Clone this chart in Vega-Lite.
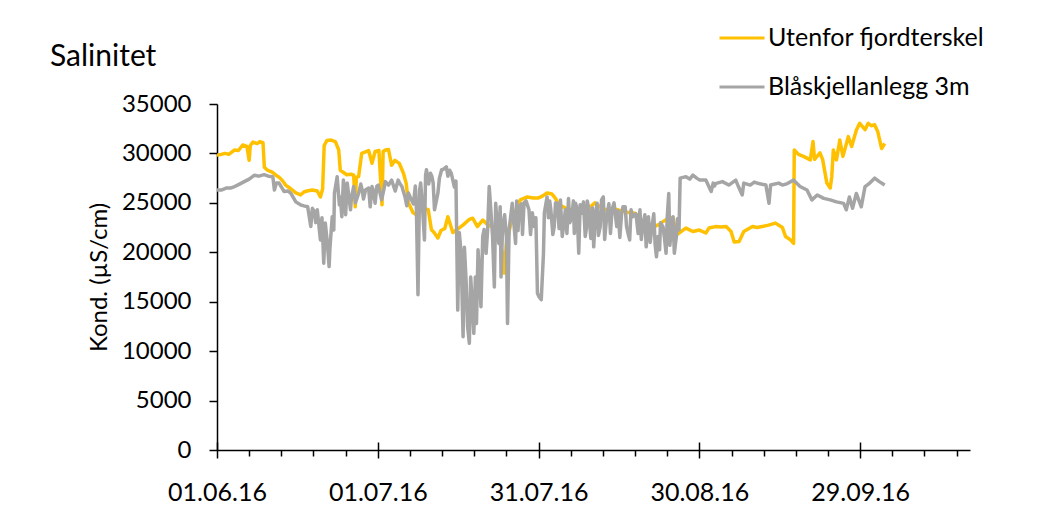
{
 "$schema": "https://vega.github.io/schema/vega-lite/v6.json",
 "width": 753,
 "height": 346,
 "autosize": {"type": "none"},
 "padding": {"left": 217, "top": 104, "right": 72, "bottom": 61},
 "background": "white",
 "config": {"view": {"stroke": null}, "font": "Lato"},
 "title": {"text": "Salinitet", "anchor": "start", "frame": "group", "fontSize": 30, "fontWeight": "normal", "color": "#000", "dx": -167, "dy": 58, "offset": 0},
 "datasets": {
  "u": [
   {"t":"2016-06-01T00:00","v":29800},{"t":"2016-06-01T19:00","v":29900},{"t":"2016-06-02T12:00","v":30000},{"t":"2016-06-03T05:00","v":29900},
   {"t":"2016-06-04T07:00","v":30350},{"t":"2016-06-05T00:00","v":30300},{"t":"2016-06-05T19:00","v":30850},{"t":"2016-06-06T14:00","v":30700},
   {"t":"2016-06-07T00:00","v":29300},{"t":"2016-06-07T05:00","v":30800},{"t":"2016-06-07T17:00","v":31150},{"t":"2016-06-08T12:00","v":31000},
   {"t":"2016-06-09T00:00","v":31200},{"t":"2016-06-09T14:00","v":31100},{"t":"2016-06-09T20:00","v":28600},{"t":"2016-06-10T10:00","v":28300},
   {"t":"2016-06-11T07:00","v":28100},{"t":"2016-06-12T00:00","v":27800},{"t":"2016-06-12T14:00","v":27600},{"t":"2016-06-13T07:00","v":27200},
   {"t":"2016-06-13T19:00","v":26800},{"t":"2016-06-14T14:00","v":26500},{"t":"2016-06-15T17:00","v":26000},{"t":"2016-06-16T14:00","v":25800},
   {"t":"2016-06-17T05:00","v":26100},{"t":"2016-06-17T19:00","v":26200},{"t":"2016-06-18T19:00","v":26300},{"t":"2016-06-19T17:00","v":26200},
   {"t":"2016-06-20T07:00","v":25600},{"t":"2016-06-20T17:00","v":26400},{"t":"2016-06-21T00:00","v":30800},{"t":"2016-06-21T12:00","v":31300},
   {"t":"2016-06-22T07:00","v":31350},{"t":"2016-06-23T02:00","v":31200},{"t":"2016-06-23T17:00","v":30350},{"t":"2016-06-24T00:00","v":28300},
   {"t":"2016-06-25T05:00","v":27850},{"t":"2016-06-26T00:00","v":27900},{"t":"2016-06-26T12:00","v":27800},{"t":"2016-06-26T19:00","v":24600},
   {"t":"2016-06-27T00:00","v":27600},{"t":"2016-06-27T10:00","v":27650},{"t":"2016-06-28T00:00","v":30000},{"t":"2016-06-28T17:00","v":30150},
   {"t":"2016-06-29T07:00","v":30300},{"t":"2016-06-29T22:00","v":29000},{"t":"2016-06-30T12:00","v":30200},{"t":"2016-07-01T05:00","v":30300},
   {"t":"2016-07-01T19:00","v":24800},{"t":"2016-07-02T00:00","v":30200},{"t":"2016-07-02T10:00","v":30350},{"t":"2016-07-03T00:00","v":30400},
   {"t":"2016-07-03T14:00","v":28800},{"t":"2016-07-04T05:00","v":29300},{"t":"2016-07-05T00:00","v":29000},{"t":"2016-07-05T19:00","v":28000},
   {"t":"2016-07-06T07:00","v":27000},{"t":"2016-07-06T17:00","v":25000},{"t":"2016-07-07T14:00","v":24000},{"t":"2016-07-08T05:00","v":23800},
   {"t":"2016-07-08T22:00","v":24200},{"t":"2016-07-09T12:00","v":24450},{"t":"2016-07-10T10:00","v":24300},{"t":"2016-07-11T00:00","v":22300},
   {"t":"2016-07-11T12:00","v":22000},{"t":"2016-07-12T05:00","v":21450},{"t":"2016-07-12T19:00","v":22200},{"t":"2016-07-13T12:00","v":22400},
   {"t":"2016-07-14T02:00","v":23600},{"t":"2016-07-15T00:00","v":22000},{"t":"2016-07-15T19:00","v":22300},{"t":"2016-07-17T00:00","v":22800},
   {"t":"2016-07-18T00:00","v":23300},{"t":"2016-07-18T17:00","v":23450},{"t":"2016-07-19T14:00","v":22600},{"t":"2016-07-20T14:00","v":23250},
   {"t":"2016-07-21T12:00","v":22800},{"t":"2016-07-22T12:00","v":22500},{"t":"2016-07-23T12:00","v":22000},{"t":"2016-07-24T05:00","v":20000},
   {"t":"2016-07-24T14:00","v":17900},{"t":"2016-07-25T00:00","v":20900},{"t":"2016-07-25T19:00","v":22800},{"t":"2016-07-26T10:00","v":23600},
   {"t":"2016-07-27T00:00","v":24600},{"t":"2016-07-27T14:00","v":25300},{"t":"2016-07-28T22:00","v":25600},{"t":"2016-07-30T00:00","v":25500},
   {"t":"2016-07-31T00:00","v":25500},{"t":"2016-07-31T19:00","v":25700},{"t":"2016-08-01T14:00","v":26000},{"t":"2016-08-02T12:00","v":25900},
   {"t":"2016-08-03T05:00","v":25400},{"t":"2016-08-03T19:00","v":24800},{"t":"2016-08-05T00:00","v":24500},{"t":"2016-08-06T07:00","v":24200},
   {"t":"2016-08-07T12:00","v":24000},{"t":"2016-08-09T00:00","v":23900},{"t":"2016-08-09T14:00","v":24550},{"t":"2016-08-10T12:00","v":25000},
   {"t":"2016-08-11T12:00","v":24600},{"t":"2016-08-12T12:00","v":24300},{"t":"2016-08-13T07:00","v":24300},{"t":"2016-08-14T05:00","v":24400},
   {"t":"2016-08-15T00:00","v":24250},{"t":"2016-08-16T00:00","v":24100},{"t":"2016-08-17T00:00","v":24000},{"t":"2016-08-18T00:00","v":23950},
   {"t":"2016-08-19T05:00","v":23250},{"t":"2016-08-20T10:00","v":22800},{"t":"2016-08-21T14:00","v":22600},{"t":"2016-08-22T10:00","v":22800},
   {"t":"2016-08-23T05:00","v":23100},{"t":"2016-08-23T19:00","v":23300},{"t":"2016-08-25T02:00","v":23500},{"t":"2016-08-25T17:00","v":21750},
   {"t":"2016-08-26T14:00","v":22100},{"t":"2016-08-27T12:00","v":22450},{"t":"2016-08-28T19:00","v":22100},{"t":"2016-08-30T00:00","v":22250},
   {"t":"2016-08-31T05:00","v":21950},{"t":"2016-08-31T19:00","v":22450},{"t":"2016-09-02T00:00","v":22600},{"t":"2016-09-03T00:00","v":22550},
   {"t":"2016-09-04T00:00","v":22600},{"t":"2016-09-04T22:00","v":22100},{"t":"2016-09-05T12:00","v":21050},{"t":"2016-09-06T10:00","v":21100},
   {"t":"2016-09-07T07:00","v":22100},{"t":"2016-09-08T22:00","v":22600},{"t":"2016-09-09T19:00","v":22500},{"t":"2016-09-10T17:00","v":22600},
   {"t":"2016-09-11T22:00","v":22750},{"t":"2016-09-13T05:00","v":22950},{"t":"2016-09-14T12:00","v":22500},{"t":"2016-09-15T02:00","v":21600},
   {"t":"2016-09-16T00:00","v":21250},{"t":"2016-09-16T14:00","v":20900},{"t":"2016-09-16T17:00","v":30350},{"t":"2016-09-17T12:00","v":29900},
   {"t":"2016-09-18T10:00","v":29700},{"t":"2016-09-19T17:00","v":29350},{"t":"2016-09-20T05:00","v":31200},{"t":"2016-09-20T12:00","v":29400},
   {"t":"2016-09-21T12:00","v":30050},{"t":"2016-09-22T00:00","v":29400},{"t":"2016-09-22T19:00","v":27000},{"t":"2016-09-23T10:00","v":26500},
   {"t":"2016-09-23T17:00","v":27650},{"t":"2016-09-24T00:00","v":30350},{"t":"2016-09-24T14:00","v":29350},{"t":"2016-09-25T05:00","v":31350},
   {"t":"2016-09-25T19:00","v":29700},{"t":"2016-09-26T19:00","v":31700},{"t":"2016-09-27T10:00","v":30700},{"t":"2016-09-28T07:00","v":32350},
   {"t":"2016-09-28T22:00","v":33050},{"t":"2016-09-29T22:00","v":32400},{"t":"2016-09-30T12:00","v":33050},{"t":"2016-10-01T02:00","v":32800},
   {"t":"2016-10-01T17:00","v":32900},{"t":"2016-10-02T07:00","v":32200},{"t":"2016-10-03T00:00","v":30500},{"t":"2016-10-03T14:00","v":31000}
  ],
  "b": [
   {"t":"2016-06-01T00:00","v":26300},{"t":"2016-06-01T19:00","v":26300},{"t":"2016-06-02T17:00","v":26500},{"t":"2016-06-03T12:00","v":26500},
   {"t":"2016-06-04T07:00","v":26650},{"t":"2016-06-05T05:00","v":26900},{"t":"2016-06-06T02:00","v":27150},{"t":"2016-06-07T00:00","v":27400},
   {"t":"2016-06-08T00:00","v":27800},{"t":"2016-06-08T19:00","v":27700},{"t":"2016-06-09T19:00","v":27850},{"t":"2016-06-10T14:00","v":27700},
   {"t":"2016-06-11T10:00","v":27650},{"t":"2016-06-11T17:00","v":26300},{"t":"2016-06-12T02:00","v":27000},{"t":"2016-06-12T14:00","v":27000},
   {"t":"2016-06-13T12:00","v":26150},{"t":"2016-06-14T05:00","v":26200},{"t":"2016-06-14T19:00","v":25950},{"t":"2016-06-15T17:00","v":25100},
   {"t":"2016-06-16T14:00","v":24800},{"t":"2016-06-17T05:00","v":24700},{"t":"2016-06-17T22:00","v":24600},{"t":"2016-06-18T12:00","v":22600},
   {"t":"2016-06-18T19:00","v":24450},{"t":"2016-06-19T17:00","v":24300},{"t":"2016-06-20T07:00","v":21250},{"t":"2016-06-20T14:00","v":23500},
   {"t":"2016-06-20T22:00","v":18900},{"t":"2016-06-21T05:00","v":22950},{"t":"2016-06-21T14:00","v":21000},{"t":"2016-06-21T22:00","v":18550},
   {"t":"2016-06-22T12:00","v":23600},{"t":"2016-06-22T19:00","v":22250},{"t":"2016-06-23T10:00","v":27650},{"t":"2016-06-24T00:00","v":25600},
   {"t":"2016-06-24T07:00","v":23600},{"t":"2016-06-24T14:00","v":27300},{"t":"2016-06-25T00:00","v":23800},{"t":"2016-06-25T07:00","v":27000},
   {"t":"2016-06-25T22:00","v":24300},{"t":"2016-06-26T12:00","v":26650},{"t":"2016-06-27T10:00","v":25950},{"t":"2016-06-28T02:00","v":26300},
   {"t":"2016-06-28T17:00","v":26300},{"t":"2016-06-29T07:00","v":26500},{"t":"2016-06-29T22:00","v":26650},{"t":"2016-06-30T12:00","v":24950},
   {"t":"2016-07-01T02:00","v":26800},{"t":"2016-07-01T17:00","v":25300},{"t":"2016-07-02T10:00","v":27150},{"t":"2016-07-03T14:00","v":27300},
   {"t":"2016-07-04T19:00","v":27300},{"t":"2016-07-05T12:00","v":26650},{"t":"2016-07-06T02:00","v":25600},{"t":"2016-07-06T17:00","v":26000},
   {"t":"2016-07-07T07:00","v":25300},{"t":"2016-07-08T00:00","v":26700},{"t":"2016-07-08T05:00","v":24300},{"t":"2016-07-08T12:00","v":15700},
   {"t":"2016-07-08T19:00","v":26300},{"t":"2016-07-09T07:00","v":25000},{"t":"2016-07-09T17:00","v":21250},{"t":"2016-07-10T02:00","v":28350},
   {"t":"2016-07-10T12:00","v":26900},{"t":"2016-07-11T02:00","v":27700},{"t":"2016-07-11T14:00","v":24300},{"t":"2016-07-12T05:00","v":25950},
   {"t":"2016-07-12T22:00","v":28350},{"t":"2016-07-13T19:00","v":28650},{"t":"2016-07-14T10:00","v":28300},{"t":"2016-07-14T17:00","v":28000},
   {"t":"2016-07-15T07:00","v":26600},{"t":"2016-07-15T22:00","v":14150},{"t":"2016-07-16T05:00","v":22000},{"t":"2016-07-16T12:00","v":20250},
   {"t":"2016-07-16T22:00","v":11450},{"t":"2016-07-17T12:00","v":16850},{"t":"2016-07-18T02:00","v":10800},{"t":"2016-07-18T17:00","v":14150},
   {"t":"2016-07-19T00:00","v":13000},{"t":"2016-07-19T10:00","v":12800},{"t":"2016-07-19T17:00","v":20250},{"t":"2016-07-20T00:00","v":17550},
   {"t":"2016-07-20T14:00","v":21600},{"t":"2016-07-21T05:00","v":19900},{"t":"2016-07-21T19:00","v":26650},{"t":"2016-07-22T10:00","v":21600},
   {"t":"2016-07-23T00:00","v":24950},{"t":"2016-07-23T14:00","v":20900},{"t":"2016-07-24T07:00","v":22700},{"t":"2016-07-25T00:00","v":21500},
   {"t":"2016-07-25T05:00","v":12800},{"t":"2016-07-25T12:00","v":22250},{"t":"2016-07-26T02:00","v":24950},{"t":"2016-07-26T17:00","v":20900},
   {"t":"2016-07-27T10:00","v":24600},{"t":"2016-07-28T07:00","v":25000},{"t":"2016-07-29T05:00","v":24300},{"t":"2016-07-30T05:00","v":22600},
   {"t":"2016-07-30T19:00","v":15850},{"t":"2016-07-31T02:00","v":15500},{"t":"2016-07-31T12:00","v":15200},{"t":"2016-07-31T22:00","v":19900},
   {"t":"2016-08-01T14:00","v":25600},{"t":"2016-08-02T07:00","v":24300},{"t":"2016-08-02T22:00","v":22600},{"t":"2016-08-03T12:00","v":24950},
   {"t":"2016-08-04T10:00","v":21600},{"t":"2016-08-05T00:00","v":24300},{"t":"2016-08-05T14:00","v":25450},{"t":"2016-08-06T05:00","v":23600},
   {"t":"2016-08-06T22:00","v":24950},{"t":"2016-08-07T12:00","v":19900},{"t":"2016-08-08T02:00","v":23950},{"t":"2016-08-08T17:00","v":21600},
   {"t":"2016-08-09T07:00","v":24600},{"t":"2016-08-10T07:00","v":20550},{"t":"2016-08-10T22:00","v":24950},{"t":"2016-08-11T12:00","v":22600},
   {"t":"2016-08-12T02:00","v":25600},{"t":"2016-08-12T17:00","v":23600},{"t":"2016-08-13T17:00","v":24300},{"t":"2016-08-14T14:00","v":22600},
   {"t":"2016-08-15T12:00","v":23950},{"t":"2016-08-16T10:00","v":22600},{"t":"2016-08-17T00:00","v":21250},{"t":"2016-08-17T14:00","v":23600},
   {"t":"2016-08-18T14:00","v":21900},{"t":"2016-08-19T12:00","v":22900},{"t":"2016-08-20T02:00","v":20550},{"t":"2016-08-21T02:00","v":22250},
   {"t":"2016-08-22T00:00","v":19550},{"t":"2016-08-22T07:00","v":21600},{"t":"2016-08-22T14:00","v":20250},{"t":"2016-08-23T05:00","v":22600},
   {"t":"2016-08-23T19:00","v":19900},{"t":"2016-08-24T07:00","v":25950},{"t":"2016-08-24T17:00","v":21900},{"t":"2016-08-25T02:00","v":23600},
   {"t":"2016-08-25T17:00","v":21600},{"t":"2016-08-26T05:00","v":22250},{"t":"2016-08-26T10:00","v":27500},{"t":"2016-08-27T12:00","v":27650},
   {"t":"2016-08-28T05:00","v":27400},{"t":"2016-08-28T19:00","v":27800},{"t":"2016-08-29T12:00","v":27500},{"t":"2016-08-30T02:00","v":27300},
   {"t":"2016-08-31T05:00","v":27300},{"t":"2016-09-01T05:00","v":26150},{"t":"2016-09-01T14:00","v":27000},{"t":"2016-09-02T00:00","v":26950},
   {"t":"2016-09-03T07:00","v":27150},{"t":"2016-09-04T12:00","v":26800},{"t":"2016-09-05T19:00","v":27300},{"t":"2016-09-07T00:00","v":25800},
   {"t":"2016-09-07T07:00","v":27000},{"t":"2016-09-08T12:00","v":26800},{"t":"2016-09-10T02:00","v":26950},{"t":"2016-09-11T10:00","v":26800},
   {"t":"2016-09-12T00:00","v":24950},{"t":"2016-09-12T07:00","v":26800},{"t":"2016-09-13T19:00","v":27000},{"t":"2016-09-15T10:00","v":26950},
   {"t":"2016-09-16T14:00","v":27300},{"t":"2016-09-17T19:00","v":26650},{"t":"2016-09-19T02:00","v":26300},{"t":"2016-09-20T00:00","v":25300},
   {"t":"2016-09-21T00:00","v":25800},{"t":"2016-09-22T05:00","v":25450},{"t":"2016-09-23T10:00","v":25300},{"t":"2016-09-24T14:00","v":25100},
   {"t":"2016-09-25T22:00","v":24950},{"t":"2016-09-26T10:00","v":24300},{"t":"2016-09-27T00:00","v":25600},{"t":"2016-09-27T14:00","v":24450},
   {"t":"2016-09-28T07:00","v":25950},{"t":"2016-09-29T05:00","v":24600},{"t":"2016-09-29T22:00","v":26650},{"t":"2016-09-30T19:00","v":27000},
   {"t":"2016-10-01T17:00","v":27500},{"t":"2016-10-02T14:00","v":27150},{"t":"2016-10-03T14:00","v":26800},
   {"t":"2016-06-19T04:00","v":24100},{"t":"2016-06-19T10:00","v":23000},{"t":"2016-06-22T02:00","v":20500},{"t":"2016-06-22T22:00","v":26000},
   {"t":"2016-06-23T20:00","v":24800},{"t":"2016-06-24T20:00","v":25800},{"t":"2016-06-26T02:00","v":25500},{"t":"2016-06-26T20:00","v":25000},
   {"t":"2016-06-27T20:00","v":26900},{"t":"2016-06-28T08:00","v":25400},{"t":"2016-06-29T14:00","v":24600},{"t":"2016-06-30T02:00","v":26400},
   {"t":"2016-06-30T20:00","v":26700},{"t":"2016-07-02T00:00","v":26000},{"t":"2016-07-03T00:00","v":26800},{"t":"2016-07-04T06:00","v":26200},
   {"t":"2016-07-05T02:00","v":27000},{"t":"2016-07-06T10:00","v":24700},{"t":"2016-07-07T16:00","v":24900},
   {"t":"2016-07-09T00:00","v":27000},{"t":"2016-07-09T22:00","v":27800},{"t":"2016-07-10T20:00","v":28000},{"t":"2016-07-11T08:00","v":27000},
   {"t":"2016-07-12T12:00","v":27500},{"t":"2016-07-13T06:00","v":28400},{"t":"2016-07-14T02:00","v":27700},{"t":"2016-07-15T14:00","v":27200},
   {"t":"2016-07-16T16:00","v":17000},{"t":"2016-07-17T04:00","v":20500},{"t":"2016-07-17T18:00","v":12500},{"t":"2016-07-18T08:00","v":17500},
   {"t":"2016-07-18T22:00","v":11800},{"t":"2016-07-19T05:00","v":17500},{"t":"2016-07-20T06:00","v":14500},{"t":"2016-07-20T20:00","v":22300},
   {"t":"2016-07-21T12:00","v":22300},{"t":"2016-07-22T03:00","v":24000},{"t":"2016-07-22T18:00","v":16500},{"t":"2016-07-23T06:00","v":23000},
   {"t":"2016-07-23T20:00","v":24600},{"t":"2016-07-24T00:00","v":17500},{"t":"2016-07-24T16:00","v":23800},{"t":"2016-07-26T08:00","v":23300},
   {"t":"2016-07-26T22:00","v":25200},{"t":"2016-07-27T04:00","v":22200},{"t":"2016-07-27T20:00","v":24900},{"t":"2016-07-28T00:00","v":21800},
   {"t":"2016-07-28T16:00","v":25200},{"t":"2016-07-29T12:00","v":21800},{"t":"2016-07-29T20:00","v":24000},{"t":"2016-07-30T12:00","v":23500},
   {"t":"2016-08-01T02:00","v":24000},{"t":"2016-08-01T20:00","v":23500},{"t":"2016-08-02T02:00","v":25200},{"t":"2016-08-02T16:00","v":21800},
   {"t":"2016-08-03T04:00","v":25000},{"t":"2016-08-03T20:00","v":22400},{"t":"2016-08-04T02:00","v":25300},{"t":"2016-08-04T18:00","v":23000},
   {"t":"2016-08-05T07:00","v":21900},{"t":"2016-08-05T20:00","v":23000},{"t":"2016-08-06T12:00","v":25200},{"t":"2016-08-06T16:00","v":21900},
   {"t":"2016-08-07T04:00","v":24400},{"t":"2016-08-07T18:00","v":24800},{"t":"2016-08-08T09:00","v":25100},{"t":"2016-08-08T22:00","v":22400},
   {"t":"2016-08-09T02:00","v":25200},{"t":"2016-08-09T18:00","v":21400},{"t":"2016-08-10T01:00","v":24500},{"t":"2016-08-10T14:00","v":23800},
   {"t":"2016-08-11T04:00","v":21700},{"t":"2016-08-11T18:00","v":25300},{"t":"2016-08-12T08:00","v":21300},{"t":"2016-08-13T03:00","v":24900},
   {"t":"2016-08-13T10:00","v":21900},{"t":"2016-08-14T02:00","v":25000},{"t":"2016-08-14T20:00","v":24200},{"t":"2016-08-15T04:00","v":21500},
   {"t":"2016-08-15T18:00","v":24600},{"t":"2016-08-16T04:00","v":24600},{"t":"2016-08-16T18:00","v":21800},{"t":"2016-08-17T06:00","v":24300},
   {"t":"2016-08-18T04:00","v":23900},{"t":"2016-08-18T22:00","v":24300},{"t":"2016-08-19T04:00","v":21300},{"t":"2016-08-19T20:00","v":23800},
   {"t":"2016-08-20T12:00","v":23600},{"t":"2016-08-20T20:00","v":21000},{"t":"2016-08-21T12:00","v":23900},{"t":"2016-08-21T18:00","v":20800},
   {"t":"2016-08-22T18:00","v":23000},{"t":"2016-08-23T12:00","v":21400},{"t":"2016-08-24T00:00","v":23500},{"t":"2016-08-24T12:00","v":20700},
   {"t":"2016-08-25T08:00","v":19900},{"t":"2016-08-25T22:00","v":23400},
   {"t":"2016-09-01T20:00","v":26700},{"t":"2016-09-06T06:00","v":26700},{"t":"2016-09-09T06:00","v":27100},{"t":"2016-09-14T12:00","v":26800}
  ]
 },
 "layer": [
  {
   "data": {"name": "u"},
   "mark": {"type": "line", "strokeWidth": 3.5, "strokeJoin": "round", "clip": true},
   "encoding": {
    "x": {"field": "t", "type": "temporal",
     "scale": {"domain": [{"year": 2016, "month": 6, "date": 1}, {"year": 2016, "month": 10, "date": 19, "hours": 12}]},
     "axis": {"orient": "bottom", "title": null, "grid": false, "format": "%d.%m.%y",
      "values": [{"year": 2016, "month": 6, "date": 1}, {"year": 2016, "month": 7, "date": 1}, {"year": 2016, "month": 7, "date": 31}, {"year": 2016, "month": 8, "date": 30}, {"year": 2016, "month": 9, "date": 29}],
      "tickSize": 8, "tickWidth": 1.5, "tickColor": "#000", "domainColor": "#000", "domainWidth": 1.5,
      "labelPadding": 22, "labelFontSize": 25, "labelColor": "#000", "labelOverlap": false, "labelFlush": false}},
    "y": {"field": "v", "type": "quantitative",
     "scale": {"domain": [0, 35000], "nice": false, "zero": true},
     "axis": {"title": "Kond. (µS/cm)", "grid": false, "format": "d",
      "values": [0, 5000, 10000, 15000, 20000, 25000, 30000, 35000],
      "tickSize": 8, "tickWidth": 1.5, "tickColor": "#000", "domainColor": "#000", "domainWidth": 1.5,
      "labelPadding": 18, "labelFontSize": 24, "labelColor": "#000",
      "titleFontSize": 24, "titleFontWeight": "normal", "titleColor": "#000",
      "titleX": -118, "titleY": 173, "titleBaseline": "middle"}},
    "color": {"datum": "Utenfor fjordterskel", "type": "nominal",
     "scale": {"domain": ["Utenfor fjordterskel", "Blåskjellanlegg 3m"], "range": ["#FFC000", "#A5A5A5"]},
     "legend": {"orient": "none", "legendX": 501, "legendY": -90, "title": null, "direction": "vertical",
      "symbolType": "stroke", "symbolSize": 2025, "symbolStrokeWidth": 3, "labelFontSize": 25, "labelColor": "#000",
      "labelLimit": 0, "rowPadding": 12, "labelOffset": 2, "padding": 0}}
   }
  },
  {
   "data": {"name": "b"},
   "mark": {"type": "line", "strokeWidth": 3.5, "strokeJoin": "round", "clip": true},
   "encoding": {
    "x": {"field": "t", "type": "temporal",
     "axis": {"orient": "bottom", "title": null, "grid": false, "labels": false, "domain": false,
      "values": [{"year": 2016, "month": 6, "date": 7}, {"year": 2016, "month": 6, "date": 13}, {"year": 2016, "month": 6, "date": 19}, {"year": 2016, "month": 6, "date": 25},
                 {"year": 2016, "month": 7, "date": 7}, {"year": 2016, "month": 7, "date": 13}, {"year": 2016, "month": 7, "date": 19}, {"year": 2016, "month": 7, "date": 25},
                 {"year": 2016, "month": 8, "date": 6}, {"year": 2016, "month": 8, "date": 12}, {"year": 2016, "month": 8, "date": 18}, {"year": 2016, "month": 8, "date": 24},
                 {"year": 2016, "month": 9, "date": 5}, {"year": 2016, "month": 9, "date": 11}, {"year": 2016, "month": 9, "date": 17}, {"year": 2016, "month": 9, "date": 23},
                 {"year": 2016, "month": 10, "date": 5}, {"year": 2016, "month": 10, "date": 11}, {"year": 2016, "month": 10, "date": 17}],
      "tickSize": 6, "tickWidth": 1.5, "tickColor": "#000"}},
    "y": {"field": "v", "type": "quantitative"},
    "color": {"datum": "Blåskjellanlegg 3m", "type": "nominal"}
   }
  },
  {
   "data": {"name": "u"},
   "mark": {"type": "line", "opacity": 0},
   "encoding": {
    "x": {"field": "t", "type": "temporal",
     "axis": {"orient": "top", "offset": -346, "title": null, "grid": false, "labels": false, "domain": false,
      "values": [{"year": 2016, "month": 6, "date": 1}, {"year": 2016, "month": 7, "date": 1}, {"year": 2016, "month": 7, "date": 31}, {"year": 2016, "month": 8, "date": 30}, {"year": 2016, "month": 9, "date": 29}],
      "tickSize": 8, "tickWidth": 1.5, "tickColor": "#000"}},
    "y": {"field": "v", "type": "quantitative"}
   }
  }
 ],
 "resolve": {"axis": {"x": "independent"}}
}
